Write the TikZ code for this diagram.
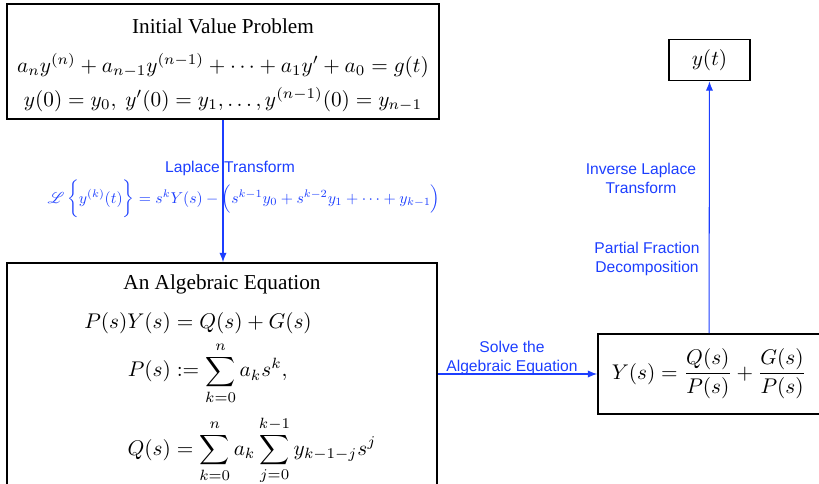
\RequirePackage{fix-cm}
\documentclass[tikz,border=0pt]{standalone}
\usepackage{amsmath}
\usepackage{mathrsfs}
\usepackage{graphicx}
\usepackage{fontspec}
\setmainfont{Liberation Serif}
\setsansfont{Liberation Sans}
\usetikzlibrary{arrows.meta}
\definecolor{flowblue}{RGB}{28,62,255}

\begin{document}
\begin{tikzpicture}[
            x=0.48pt, y=-0.48pt,
            stage box/.style={draw, line width=0.8pt, align=center, inner sep=0pt, font=\fontsize{10.2}{12.2}\selectfont},
            flow arrow/.style={-{Latex[length=4.5pt,width=3.5pt]}, draw=flowblue, line width=0.5pt},
            flow label/.style={text=flowblue, font=\sffamily\fontsize{7.5}{9.1}\selectfont, align=center, inner sep=0pt}
        ]
            \useasboundingbox (0,0) rectangle (819,484);

            % --- Boxes ---
            \node[stage box, minimum width=207.4pt, minimum height=55.2pt] (ivp) at (223,61.5)
                {\rule{0pt}{10.7pt}Initial Value Problem\\[6.5pt]
                 $a_ny^{(n)}+a_{n-1}y^{(n-1)}+\cdots+a_1y'+a_0=g(t)$\\[4pt]
                 $y(0)=y_0,\ y'(0)=y_1,\ldots,y^{(n-1)}(0)=y_{n-1}$};
            \node[stage box, minimum width=206.4pt, minimum height=106.6pt] (alg) at (222,374)
                {\rule{0pt}{12.7pt}An Algebraic Equation\\[6.8pt]
                 \hspace*{8pt}$\displaystyle\begin{aligned}
                    P(s)Y(s)&=Q(s)+G(s)\\[-1pt]
                    P(s)&:=\sum_{k=0}^{n}a_ks^k,\\[1.9pt]
                    Q(s)&=\sum_{k=0}^{n}a_k\sum_{j=0}^{k-1}y_{k-1-j}s^j
                 \end{aligned}$};
            \node[stage box, minimum width=106.6pt, minimum height=38.4pt] (Ys) at (709,374)
                {$\displaystyle Y(s)=\frac{Q(s)}{P(s)}+\frac{G(s)}{P(s)}$};
            \node[stage box, minimum width=38.9pt, minimum height=19.7pt] (yt) at (709.5,60) {$y(t)$};

            % --- Arrows ---
            \draw[flow arrow] (ivp.south) -- (ivp.south |- alg.north);
            \draw[flow arrow] (alg) -- (Ys);
            \draw[flow arrow] (Ys) -- (yt);

            % --- Labels ---
            \node[flow label, anchor=base] (lt) at (230,172) {Laplace Transform};
            \node[text=flowblue, anchor=base, inner sep=0pt] (ltrule) at (244,203)
                {\scalebox{0.755}{$\mathscr{L}\left\{y^{(k)}(t)\vphantom{\bigg|}\right\}=s^kY(s)-\Bigl(s^{k-1}y_0+s^{k-2}y_1+\cdots+y_{k-1}\Bigr)$}};
            \node[flow label] (solve) at (512,357.5) {Solve the\\Algebraic Equation};
            \node[flow label] (inv) at (641,178.5) {Inverse Laplace\\Transform};
            \node[flow label] (pfd) at (647,258.5) {Partial Fraction\\Decomposition};

        \end{tikzpicture}
\end{document}
